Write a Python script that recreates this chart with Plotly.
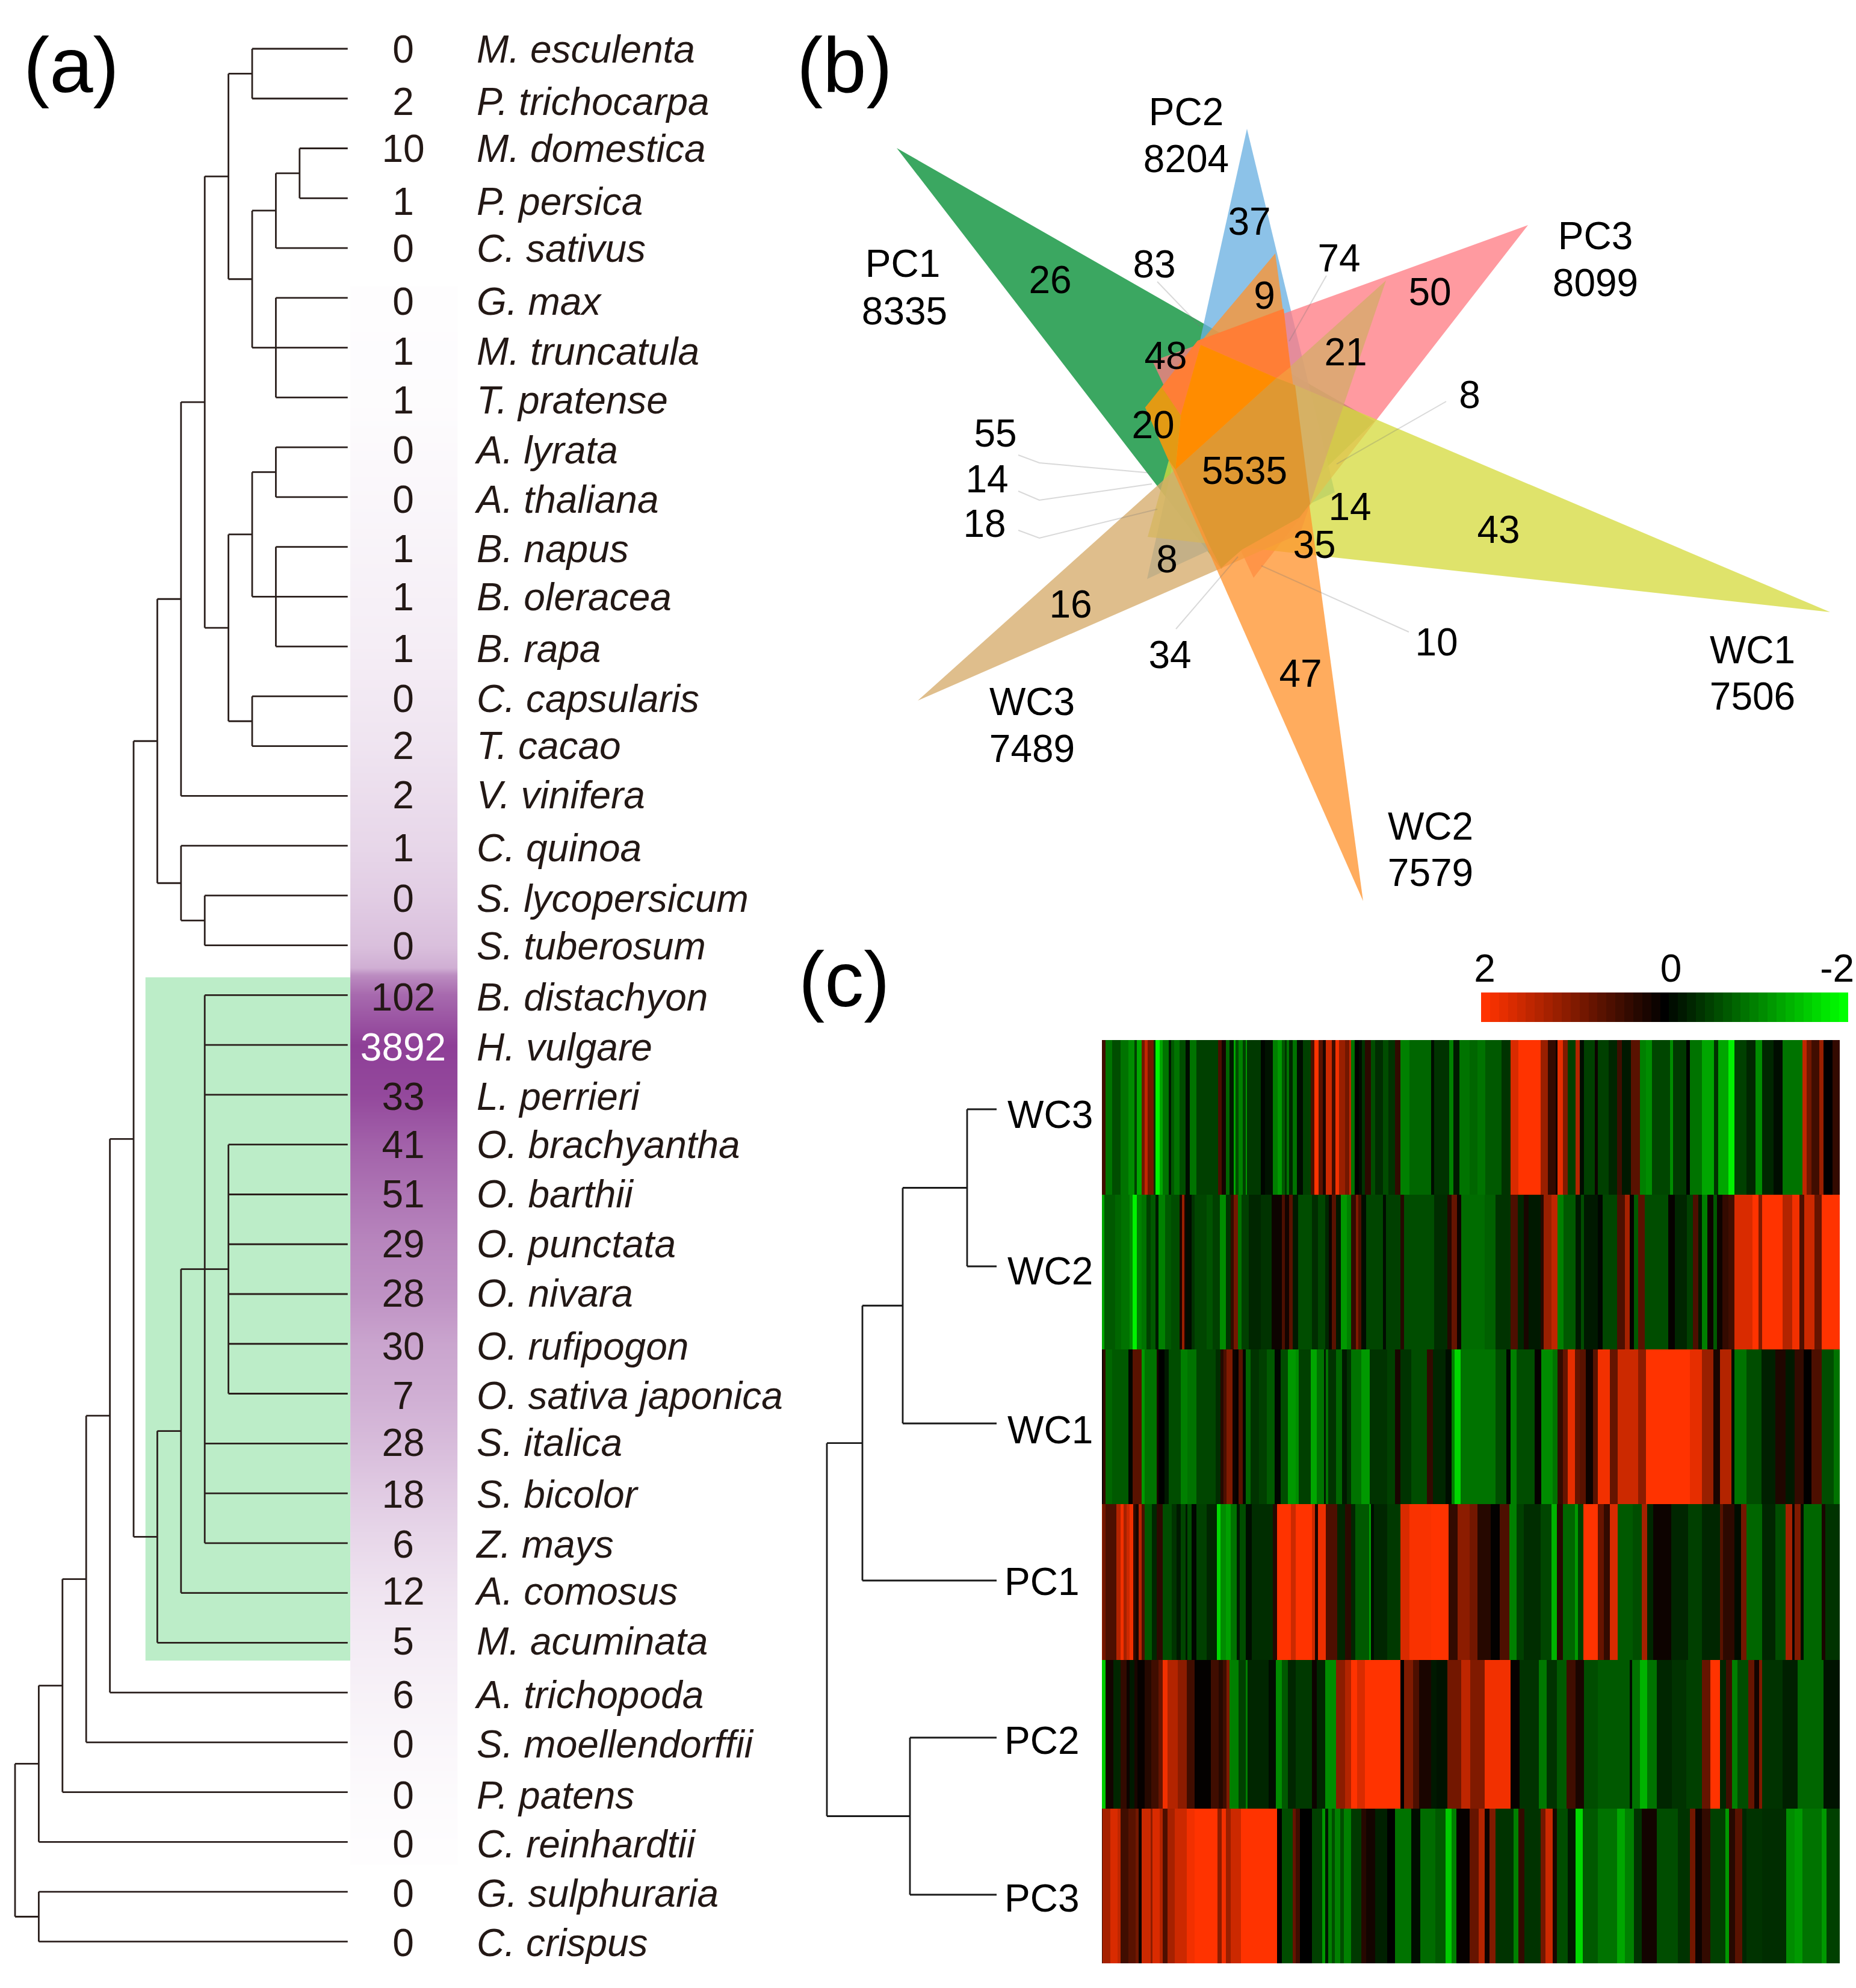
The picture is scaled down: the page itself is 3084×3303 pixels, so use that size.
import numpy as np
import plotly.graph_objects as go

W, H = 3084, 3303
FONT = "Liberation Sans"
INK = "#231815"

# ---------- panel (a) ----------
SPECIES = ["M. esculenta", "P. trichocarpa", "M. domestica", "P. persica", "C. sativus", "G. max",
           "M. truncatula", "T. pratense", "A. lyrata", "A. thaliana", "B. napus", "B. oleracea",
           "B. rapa", "C. capsularis", "T. cacao", "V. vinifera", "C. quinoa", "S. lycopersicum",
           "S. tuberosum", "B. distachyon", "H. vulgare", "L. perrieri", "O. brachyantha", "O. barthii",
           "O. punctata", "O. nivara", "O. rufipogon", "O. sativa japonica", "S. italica", "S. bicolor",
           "Z. mays", "A. comosus", "M. acuminata", "A. trichopoda", "S. moellendorffii", "P. patens",
           "C. reinhardtii", "G. sulphuraria", "C. crispus"]
COUNTS = [0, 2, 10, 1, 0, 0, 1, 1, 0, 0, 1, 1, 1, 0, 2, 2, 1, 0, 0, 102, 3892, 33, 41, 51, 29, 28, 30, 7,
          28, 18, 6, 12, 5, 6, 0, 0, 0, 0, 0]
LABEL_NUDGE_PX = [7, 11, 6, 12, 7, 12, 12, 11, 11, 10, 9, 7, 10, 10, 5, 5, 10, 11, 7, 10, 10, 9, 6, 6, 6, 5, 10, 9, 5,
                  8, 8, 3, 4, 10, 9, 11, 10, 9, 8]

DICOTS = (6, [(7, [(8, [(9, [(10, [0, 1]),
                             (10, [(11, [(12, [2, 3]), 4]), (11, [5, 6, 7])])]),
                        (9, [(10, [(11, [8, 9]), (11, [10, 11, 12])]), (10, [13, 14])])]),
                   15]),
              (7, [16, (8, [17, 18])])])
MONOCOTS = (6, [(7, [(8, [19, 20, 21, (9, [22, 23, 24, 25, 26, 27]), 28, 29, 30]), 31]), 32])
SPECIES_TREE = (0, [(1, [(2, [(3, [(4, [(5, [DICOTS, MONOCOTS]), 33]), 34]), 35]), 36]), (1, [37, 38])])

GRADIENT_ROW = [4.85, 5, 7, 8, 10, 12, 14, 16, 17, 18, 18.45, 18.6, 19, 20, 21, 22, 23, 24, 25, 26, 27, 28, 29,
                30, 31, 32, 33, 34, 35, 36, 36.3]
GRADIENT_TONE = [.012, .012, .015, .03, .06, .09, .14, .21, .26, .33, .42, .6, .78, 1, .95, .82, .72, .63, .57,
                 .47, .42, .35, .27, .2, .14, .1, .07, .045, .025, .012, .008]

# ---------- panel (b) ----------
PC1_CORNERS = [(1490, 246), (2284, 700), (2029, 945)]
PC2_CORNERS = [(2072, 214), (1906, 962), (2218, 818)]
PC3_CORNERS = [(2539, 374), (2083, 960), (1915, 600)]
WC1_CORNERS = [(3041, 1017), (1995, 573), (1907, 892)]
WC3_CORNERS = [(1525, 1164), (2303, 466), (2160, 887)]
WC2_CORNERS = [(2265, 1497), (2119, 421), (1903, 677)]
SETS = [("PC1", PC1_CORNERS, "rgba(0,140,50,0.77)"),
        ("PC2", PC2_CORNERS, "rgba(106,176,225,0.77)"),
        ("PC3", PC3_CORNERS, "rgba(255,123,132,0.77)"),
        ("WC1", WC1_CORNERS, "rgba(214,219,62,0.77)"),
        ("WC3", WC3_CORNERS, "rgba(214,171,106,0.77)"),
        ("WC2", WC2_CORNERS, "rgba(255,147,45,0.77)")]
CORE_REGION = [(1953, 780), (2121, 628), (2152, 640), (2177, 837), (2159, 860), (2064, 913), (2029, 943), (2010, 907)]
UPPER_REGION = [(1990, 566), (2133, 513), (2144, 610), (2121, 628), (1995, 573), (1962, 690), (1930, 643)]
BRIGHT_REGION = [(1995, 573), (2121, 628), (1953, 780), (1962, 690)]
AMBER_REGION = [(1903, 677), (1930, 643), (1962, 690), (1953, 780), (1941, 763)]
REGIONS = [(CORE_REGION, "#df9832"), (UPPER_REGION, "#ff7e36"), (BRIGHT_REGION, "#ff8c00"), (AMBER_REGION, "#e39a14")]
LEADERS = [[(1923, 468), (1994, 542)], [(2204, 458), (2142, 567)], [(2403, 667), (2221, 771)],
           [(1692, 756), (1727, 769), (1914, 786)], [(1692, 816), (1727, 831), (1914, 804)],
           [(1692, 881), (1727, 894), (1923, 846)], [(1954, 1045), (2057, 925)], [(2341, 1050), (2096, 940)]]
VENN_TEXT = ["PC1", "8335", "PC2", "8204", "PC3", "8099", "WC1", "7506", "WC2", "7579", "WC3", "7489",
             "26", "83", "37", "74", "9", "50", "48", "21", "8", "20", "55", "14", "18", "5535", "14", "43",
             "35", "8", "16", "34", "10", "47"]
VENN_X = [1500, 1503, 1971, 1971, 2651, 2651, 2912, 2912, 2377, 2377, 1715, 1715,
          1745, 1918, 2076, 2225, 2101, 2376, 1937, 2236, 2442, 1916, 1654, 1640, 1636, 2068, 2243, 2490,
          2184, 1939, 1779, 1944, 2387, 2161]
VENN_Y = [444, 523, 192, 270, 398, 476, 1086, 1163, 1379, 1456, 1172, 1250,
          471, 445, 374, 435, 497, 491, 597, 591, 662, 712, 726, 802, 876, 788, 848, 886,
          911, 935, 1010, 1094, 1073, 1125]

# ---------- panel (c) ----------
SAMPLES = ["WC3", "WC2", "WC1", "PC1", "PC2", "PC3"]
SAMPLE_LEFT_PX = [1674, 1674, 1674, 1669, 1669, 1669]
SAMPLE_NUDGE_PX = [15, 14, 17, 8, 11, 12]
SAMPLE_TREE = (1374, [(1433, [(1500, [(1607, [0, 1]), 2]), 3]), (1512, [4, 5])])
ROW_EDGES = [1728, 1985, 2242, 2499, 2758, 3005, 3262]

WC3_A = [(35,.5),(70,-.9),(110,-.6),(150,-.9),(180,-1.1),(192,-.5),(215,-1.3),(232,.9),(245,1.5),(275,.9),(285,-.4),(305,-1.9),(320,-1.3),(350,-.9),(362,-.2),(378,-.7),(405,-.9),(435,-.6),(457,-.1),(488,-.9),(598,-.5),(615,.6),(635,.15),(655,-.8),(675,-.2),(685,-1.3),(700,-.6),(720,-1.),(735,-.5),(742,-1.2),(810,-.45),(830,-.05),(870,-.15),(895,-1.),(915,-1.2),(930,-.7),(940,-.4),(950,-.9),(968,-.3),(990,-.9),(1020,-.1),(1060,-.5),(1078,.6),(1097,2),(1120,.7),(1135,.2),(1165,1.6),(1182,.5),(1200,1.9),(1230,1.2),(1250,.9),(1260,1.5)]
WC3_B = [(48,-.9),(70,0),(85,-.1),(100,-.4),(130,.35),(150,-.6),(190,-.35),(215,-.6),(250,-.4),(275,.4),(320,-1.),(430,-.8),(445,-.1),(518,-.4),(540,-1.),(570,-.2),(620,-.9),(660,-.8),(700,-.9),(780,-.7),(825,-.4),(865,1.7),(975,2),(1010,1.2),(1050,.4),(1060,.1),(1085,1.8),(1110,1.),(1150,-.5),(1170,1.4),(1190,-.1),(1245,-.5),(1260,.1)]
WC3_C = [(85,-.5),(125,-.3),(150,.5),(195,-.2),(240,.7),(270,-1.),(300,-1.1),(390,-.55),(405,-1.1),(470,-.45),(490,-.02),(550,-.9),(610,-1.3),(630,-.4),(680,-1.3),(710,-1.9),(770,-.5),(815,-.3),(850,-1.1),(905,-.3),(950,-.1),(1050,-.9),(1070,1.5),(1095,.9),(1135,.5),(1155,1.2),(1200,0),(1235,.4)]

WC2_A = [(30,-1.3),(85,-.7),(115,-.8),(155,-.9),(172,-1.1),(192,-1.9),(215,-1.),(240,-.9),(262,-.5),(285,-.7),(300,-.2),(332,-1.),(362,-.7),(405,-.6),(418,.2),(428,1.2),(435,.2),(465,-.1),(480,-.4),(540,-.55),(570,-.65),(605,-.5),(635,-1.1),(660,-.4),(675,.4),(695,.9),(715,-.9),(750,-.5),(810,-.3),(865,-.4),(880,.1),(915,.1),(930,.6),(950,.15),(970,.7),(995,-.2),(1065,-.6),(1095,-.35),(1130,-.55),(1148,-.3),(1165,.1),(1185,.7),(1210,-.2),(1240,-1.2),(1260,-1.)]
WC2_B = [(55,.4),(65,1.),(80,.6),(105,-.1),(190,-.55),(205,-.1),(275,-.5),(295,.3),(445,-.6),(510,-.35),(530,.3),(558,.8),(578,.1),(695,-.85),(750,-.75),(825,-.4),(860,.6),(890,-.3),(915,.2),(975,-.2),(990,.3),(1030,1.2),(1058,1.5),(1090,-1.),(1150,-.7),(1175,-.2),(1190,-.6),(1260,-.2)]
WC2_C = [(55,-.05),(125,-.55),(165,.6),(190,1.3),(210,.05),(230,-.7),(265,.7),(380,-.6),(415,.05),(475,-.3),(505,-.5),(530,.6),(550,-.2),(575,-1.),(605,.1),(625,-.7),(650,.1),(680,.4),(712,.5),(800,1.7),(830,2),(850,1.),(950,2),(1000,1.4),(1035,1.9),(1060,.6),(1110,1.6),(1145,.8),(1235,2)]

WC1_A = [(25,.1),(35,.4),(70,-.8),(150,-.7),(170,-.05),(215,.7),(232,-1.2),(290,-.9),(300,.2),(330,0),(350,-.2),(410,-.6),(445,-1.),(490,-.9),(585,-.55),(610,-.35),(625,.3),(640,.6),(668,1.),(685,.1),(700,.05),(720,.7),(735,-.05),(760,-.8),(800,-.4),(840,-.5),(878,-.7),(910,-.05),(945,-.6),(985,-1.2),(1000,-1.1),(1060,-.5),(1090,-1.3),(1125,-.9),(1135,-.2),(1145,-.9),(1185,-.4),(1215,-.8),(1240,-.2),(1260,-.4)]
WC1_B = [(80,-.9),(122,-1.2),(210,-.4),(250,-.5),(275,.2),(330,-.4),(408,-.6),(438,.4),(500,-.3),(530,-.1),(545,-1.),(575,-1.7),(750,-.9),(805,-.6),(825,-.05),(855,-1.),(945,-.6),(978,.05),(1035,-1.1),(1058,-.9),(1085,.4),(1110,.8),(1145,1.8),(1170,.8),(1200,.7),(1235,.1),(1260,.7)]
WC1_C = [(90,1.9),(130,.8),(230,1.6),(270,1.1),(490,2),(550,1.8),(605,1.2),(640,.2),(695,1.4),(710,-.1),(770,-.9),(845,-.6),(915,-.25),(965,.25),(1010,-.2),(1055,.4),(1095,0),(1145,.6),(1205,-.6),(1235,-.9)]

PC1_A = [(20,1.2),(35,.9),(90,.6),(110,1.4),(125,1.9),(140,1.3),(155,1.6),(175,1.9),(185,.4),(200,.2),(215,1.4),(232,.6),(268,-.7),(292,-.3),(320,.35),(365,-.6),(390,-.4),(410,-.2),(435,-.55),(445,-.2),(465,-.6),(488,-.05),(540,-.5),(590,-.3),(610,-1.7),(635,-1.1),(660,-1.25),(690,-.9),(705,-.2),(735,-.6),(765,-.1),(870,-.35),(890,.3),(960,2),(985,1.6),(1065,2),(1080,1.6),(1095,.2),(1135,1.85),(1190,.6),(1230,-.3),(1260,.35)]
PC1_B = [(50,-.3),(120,-.7),(130,-1.2),(145,-.1),(210,-.3),(275,-.45),(320,1.7),(430,1.95),(515,2),(560,.4),(620,1.1),(660,.9),(725,.3),(770,.02),(820,.6),(855,-1.),(890,-.5),(975,-.35),(1030,-.55),(1055,-1.4),(1085,.3),(1145,-.8),(1160,-1.2),(1188,-.5),(1260,2)]
PC1_C = [(60,.8),(90,.4),(130,1.7),(205,-.7),(250,-.6),(275,1.3),(305,-.3),(395,.1),(480,-.3),(550,-.5),(640,-.3),(655,.7),(710,.35),(745,-.1),(770,.9),(850,-.8),(915,-.3),(965,-.6),(1000,1.3),(1010,.1),(1040,1.),(1055,-.1),(1145,-.8),(1165,.2),(1235,-.4)]

PC2_A = [(35,-1.6),(75,.15),(110,-.3),(140,.4),(155,.1),(180,-.2),(195,.2),(230,.05),(265,.3),(300,.5),(320,.8),(345,1.9),(395,1.4),(440,1.1),(480,.5),(560,.02),(600,.5),(620,.3),(640,.5),(655,1.),(700,-1.),(735,-.5),(745,-1.),(850,-.3),(885,-.1),(915,-1.1),(945,-.7),(985,-.3),(1065,-.45),(1090,.1),(1130,-.3),(1185,-1.1),(1230,1.1),(1260,1.4)]
PC2_B = [(60,2),(100,1.7),(275,2),(295,0),(340,1.),(370,.6),(430,.2),(455,-.2),(510,-.15),(580,.9),(625,1.5),(695,1.),(825,1.9),(870,.05),(965,-.4),(1005,-.95),(1055,-.4),(1105,-.7),(1150,.5),(1190,.2),(1260,-.6)]
PC2_C = [(190,-.7),(200,-.1),(240,-.9),(275,-1.4),(325,-.9),(400,-.3),(470,-.4),(550,-.5),(590,.8),(640,2),(670,-.3),(700,.5),(725,-1.),(780,-.6),(810,.8),(835,.15),(850,1.),(950,-.4),(1025,-.25),(1155,-.8),(1235,-.15)]

PC3_A = [(20,.5),(60,1.3),(95,1.7),(110,1.5),(150,.5),(185,.7),(200,.9),(215,.1),(260,1.6),(270,1.1),(305,1.7),(320,1.4),(345,.6),(380,1.3),(440,1.6),(480,1.9),(595,2),(615,1.1),(635,1.9),(660,1.2),(710,1.6),(890,2),(915,0),(970,-.6),(985,.8),(1005,.5),(1065,0),(1115,-.5),(1130,-1.2),(1145,-.2),(1165,-1.),(1180,-.6),(1205,-1.),(1225,-.6),(1260,-1.)]
PC3_B = [(80,-.45),(105,.3),(150,.15),(210,-.25),(250,0),(330,-.9),(375,-.1),(450,-.85),(500,-.7),(530,-1.6),(555,-1.),(620,.05),(665,.8),(695,1.4),(720,.1),(750,1.),(840,-.4),(865,-1.),(895,.4),(975,-.4),(1000,.9),(1035,1.6),(1055,.2),(1110,-.6),(1150,-.2),(1185,-1.7),(1260,-.7)]
PC3_C = [(125,-.9),(165,-1.3),(210,-1.),(250,-.4),(325,.15),(430,-.6),(490,-.4),(515,.9),(550,.1),(590,.4),(665,-.5),(685,-1.2),(715,.3),(750,.7),(770,-.3),(850,-.4),(970,-.35),(1010,-1.1),(1050,-1.2),(1145,-.9),(1170,-1.2),(1235,-.5)]

HEAT_RUNS = [(WC3_A, WC3_B, WC3_C), (WC2_A, WC2_B, WC2_C), (WC1_A, WC1_B, WC1_C),
             (PC1_A, PC1_B, PC1_C), (PC2_A, PC2_B, PC2_C), (PC3_A, PC3_B, PC3_C)]
HEAT_LEFT, HEAT_RIGHT = 1831, 3057
CROP_ORIGINS = [1825, 2235, 2645]
RAMP = [2.0, 1.9, 1.8, 1.7, 1.6, 1.5, 1.4, 1.3, 1.2, 1.1, 1.0, .9, .8, .7, .6, .5, .4, .3, .2, .1, 0,
        -.1, -.2, -.3, -.4, -.5, -.6, -.7, -.8, -.9, -1.0, -1.1, -1.2, -1.3, -1.4, -1.5, -1.6, -1.7, -1.8, -1.9, -2.0]
RED_GREEN = [[0, "#00ff00"], [.5, "#000000"], [1, "#ff3300"]]


def expand_row(crops):
    row = np.zeros(HEAT_RIGHT - HEAT_LEFT)
    cursor = 0
    for origin, runs in zip(CROP_ORIGINS, crops):
        for stop, value in runs:
            end = min(len(row), int(round(origin + stop / 3 - HEAT_LEFT)))
            if end > cursor:
                row[cursor:end] = value
                cursor = end
    row[cursor:] = value
    return row


def tree_segments(node, leaf_x, xs, ys):
    if isinstance(node, int):
        return leaf_x, float(node)
    x, children = node
    child_y = []
    for child in children:
        cx, cy = tree_segments(child, leaf_x, xs, ys)
        xs += [x, cx, None]
        ys += [cy, cy, None]
        child_y.append(cy)
    xs += [x, x, None]
    ys += [child_y[0], child_y[-1], None]
    return x, (child_y[0] + child_y[-1]) / 2


fig = go.Figure()
text_font = dict(family=FONT, size=64, color="black")

# (a)
LEVEL_PX, LEAF_PX = 39.4, 82.76
lx, ly = [], []
tree_segments(SPECIES_TREE, 14.03, lx, ly)
fig.add_trace(go.Heatmap(x=[14.14, 16.4, 18.65], y=GRADIENT_ROW, z=[[t, t] for t in GRADIENT_TONE],
                         zmin=0, zmax=1, zsmooth="best", showscale=False, xaxis="x", yaxis="y",
                         colorscale=[[0, "#ffffff"], [1, "#8e3f97"]]))
fig.add_trace(go.Scatter(x=lx, y=ly, mode="lines", line=dict(color="#2a1f1c", width=2.8), xaxis="x", yaxis="y"))
rows = np.arange(len(SPECIES))
label_y = rows + np.array(LABEL_NUDGE_PX) / LEAF_PX
fig.add_trace(go.Scatter(x=[16.37] * len(rows), y=label_y, mode="text", text=[str(c) for c in COUNTS],
                         textposition="middle center", cliponaxis=False, xaxis="x", yaxis="y",
                         textfont=dict(family=FONT, size=64, color=["white" if c == 3892 else INK for c in COUNTS])))
fig.add_trace(go.Scatter(x=[19.47] * len(rows), y=label_y, mode="text", text=["<i>%s</i>" % s for s in SPECIES],
                         textposition="middle right", cliponaxis=False, xaxis="x", yaxis="y",
                         textfont=dict(family=FONT, size=64, color=INK)))

# (b)
for name, corners, colour in SETS:
    fig.add_trace(go.Scatter(x=[p[0] for p in corners], y=[p[1] for p in corners], fill="toself", fillcolor=colour,
                             mode="none", name=name, xaxis="x2", yaxis="y2"))
for region, colour in REGIONS:
    fig.add_trace(go.Scatter(x=[p[0] for p in region], y=[p[1] for p in region], fill="toself", fillcolor=colour,
                             mode="none", xaxis="x2", yaxis="y2"))
for leader in LEADERS:
    fig.add_trace(go.Scatter(x=[p[0] for p in leader], y=[p[1] for p in leader], mode="lines",
                             line=dict(color="rgba(120,120,120,0.28)", width=2), xaxis="x2", yaxis="y2"))
fig.add_trace(go.Scatter(x=VENN_X, y=VENN_Y, mode="text", text=VENN_TEXT, textposition="middle center",
                         textfont=text_font, cliponaxis=False, xaxis="x2", yaxis="y2"))

# (c)
cx_, cy_ = [], []
tree_segments(SAMPLE_TREE, 1656, cx_, cy_)
fig.add_trace(go.Scatter(x=cx_, y=cy_, mode="lines", line=dict(color="#1a1a1a", width=2.8), xaxis="x3", yaxis="y3"))
fig.add_trace(go.Scatter(x=SAMPLE_LEFT_PX, y=np.arange(6) + np.array(SAMPLE_NUDGE_PX) / 261, mode="text", text=SAMPLES,
                         textposition="middle right", textfont=text_font, cliponaxis=False, xaxis="x3", yaxis="y3"))
heat_x = np.arange(HEAT_LEFT, HEAT_RIGHT + 1)
fig.add_trace(go.Heatmap(x=heat_x, y=ROW_EDGES, z=[expand_row(c) for c in HEAT_RUNS], zmin=-2, zmax=2,
                         colorscale=RED_GREEN, showscale=False, xaxis="x4", yaxis="y4"))
fig.add_trace(go.Heatmap(x=np.linspace(2, -2, len(RAMP) + 1), y=[0, 1], z=[RAMP], zmin=-2, zmax=2,
                         colorscale=RED_GREEN, showscale=False, xaxis="x5", yaxis="y5"))

# panel letters
for letter, px, py in [("(a)", 118, 108), ("(b)", 1403, 108), ("(c)", 1403, 1627)]:
    fig.add_annotation(text=letter, x=px / W, y=1 - py / H, xref="paper", yref="paper", showarrow=False,
                       xanchor="center", yanchor="middle",
                       font=dict(family=FONT, size=130, color="black"))

hidden = dict(visible=False)
fig.update_layout(
    width=W, height=H, margin=dict(l=0, r=0, t=0, b=0, autoexpand=False), paper_bgcolor="white",
    plot_bgcolor="rgba(0,0,0,0)", showlegend=False,
    xaxis=dict(domain=[0, 1300 / W], range=[-25 / LEVEL_PX, (1300 - 25) / LEVEL_PX], **hidden),
    yaxis=dict(domain=[0, 1], range=[(H - 81) / LEAF_PX, -81 / LEAF_PX], **hidden),
    xaxis2=dict(domain=[1300 / W, 1], range=[1300, W], **hidden),
    yaxis2=dict(domain=[1 - 1560 / H, 1], range=[1560, 0], **hidden),
    xaxis3=dict(domain=[1300 / W, 1], range=[1300, W], **hidden),
    yaxis3=dict(domain=[0, 1 - 1560 / H], range=[(H - 1843) / 261, (1560 - 1843) / 261], **hidden),
    xaxis4=dict(domain=[HEAT_LEFT / W, HEAT_RIGHT / W], range=[HEAT_LEFT, HEAT_RIGHT], **hidden),
    yaxis4=dict(domain=[1 - 3262 / H, 1 - 1728 / H], range=[3262, 1728], **hidden),
    xaxis5=dict(domain=[2461 / W, 3071 / W], range=[2, -2], side="top", anchor="y5", showgrid=False, zeroline=False,
                showline=False, ticks="", tickvals=[1.96, -.07, -1.88], ticktext=["2", "0", "-2"],
                ticklabeloverflow="allow", ticklabelstandoff=4,
                tickfont=dict(family=FONT, size=64, color="black")),
    yaxis5=dict(domain=[1 - 1698 / H, 1 - 1649 / H], range=[0, 1], **hidden),
    shapes=[dict(type="rect", xref="x", yref="y", x0=5.5, x1=14.14, y0=18.64, y1=32.36, layer="below",
                 fillcolor="#bcedc8", line=dict(width=0))],
)
fig.write_html("out.html", post_script="document.body.style.margin='0';", config={"displayModeBar": False})
